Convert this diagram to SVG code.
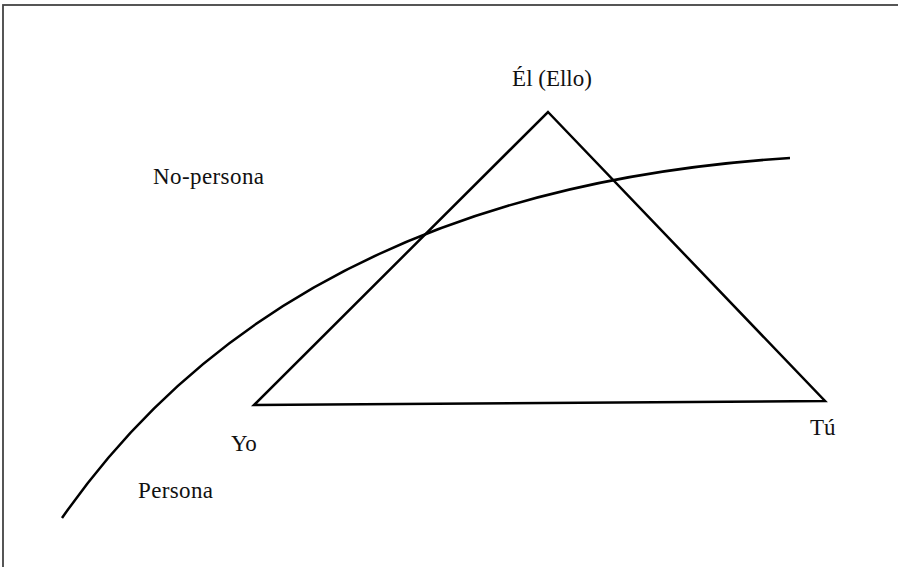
<svg xmlns="http://www.w3.org/2000/svg" width="898" height="567" viewBox="0 0 898 567">
<style>
.lbl{font-family:"Liberation Serif","Times New Roman",serif;font-size:23px;fill:#111}
.ln{fill:none;stroke:#000;stroke-width:2.5;stroke-linejoin:miter}
</style>
<rect x="0" y="0" width="898" height="567" fill="#fff"/>
<rect x="3" y="5" width="910" height="580" fill="none" stroke="#444" stroke-width="1.8"/>
<g id="connectors">
<path id="boundary" class="ln" d="M62,518 Q290,190 790,158"/>
<polygon id="triangle" class="ln" points="548,112 825,401 254,405"/>
</g>
<g id="node-el"><text class="lbl" x="552" y="86" text-anchor="middle">Él (Ello)</text></g>
<g id="node-nopersona"><text class="lbl" x="153" y="184" textLength="111">No-persona</text></g>
<g id="node-yo"><text class="lbl" x="231" y="451">Yo</text></g>
<g id="node-tu"><text class="lbl" x="810" y="435">Tú</text></g>
<g id="node-persona"><text class="lbl" x="138" y="498" textLength="75">Persona</text></g>
</svg>
